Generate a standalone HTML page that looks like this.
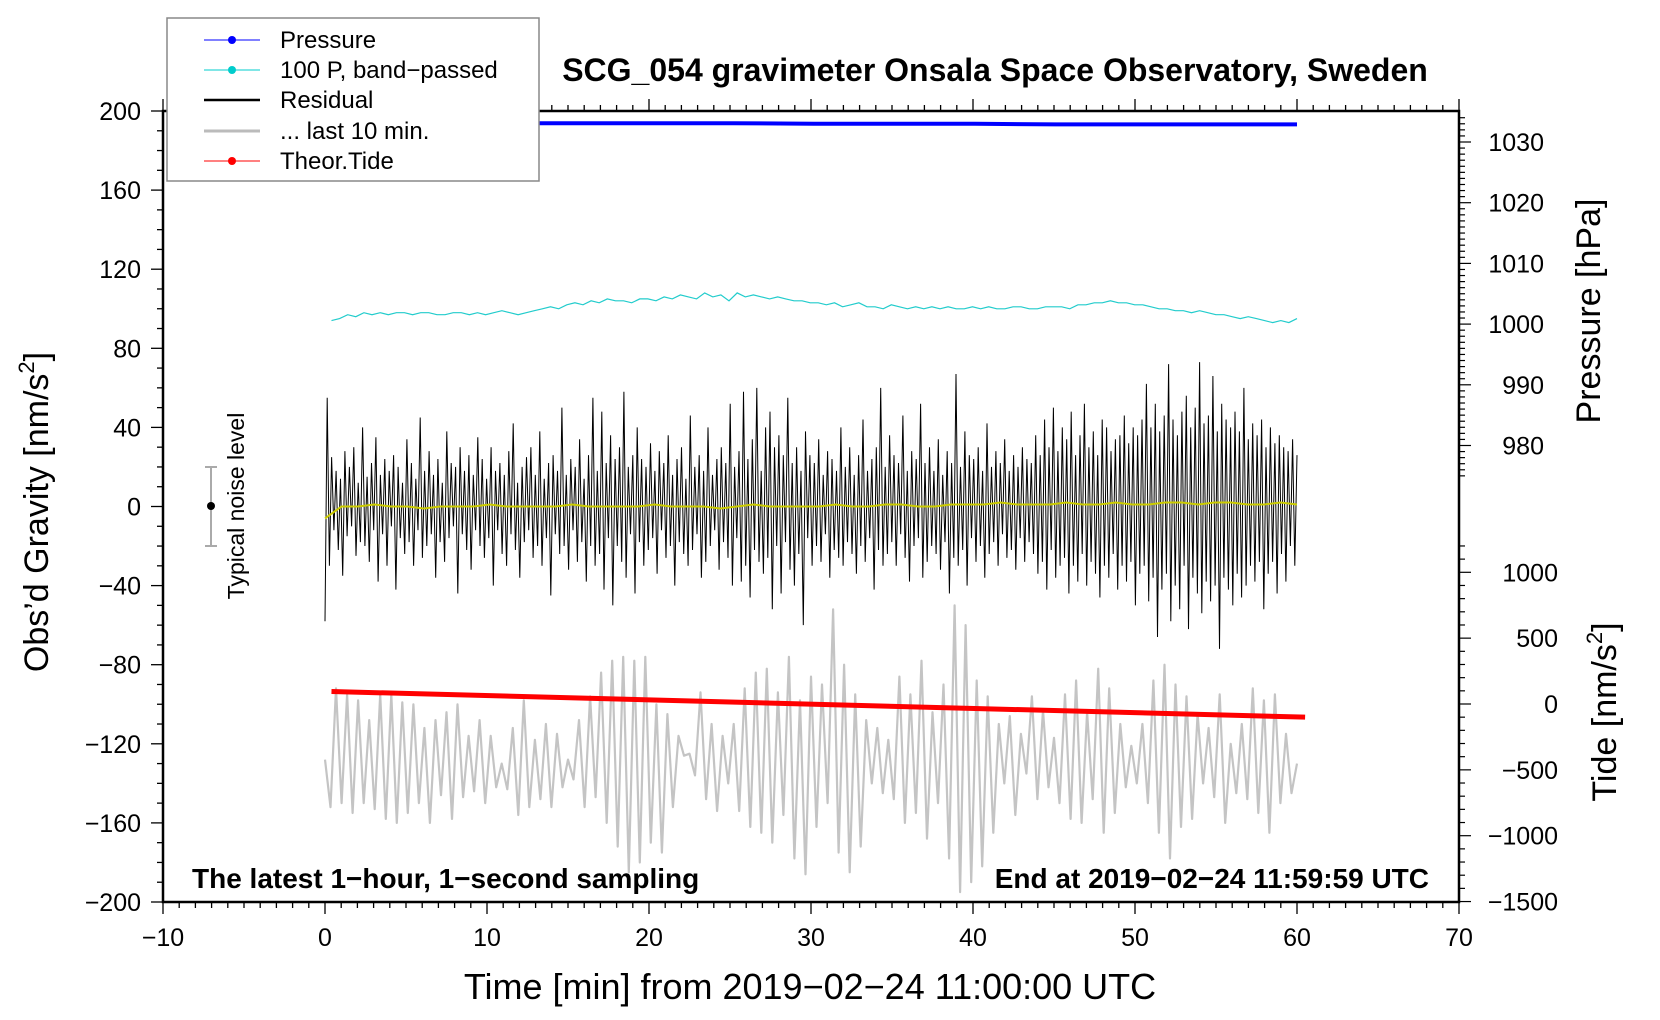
<!DOCTYPE html>
<html><head><meta charset="utf-8"><style>
html,body{margin:0;padding:0;background:#fff;}
svg{display:block;font-family:"Liberation Sans",sans-serif;}
</style></head><body>
<svg id="chart" width="1660" height="1020" viewBox="0 0 1660 1020" xmlns="http://www.w3.org/2000/svg">
<rect width="1660" height="1020" fill="#fff"/>
<g id="marks"></g>
<g id="axes"></g>
<text x="995" y="81" text-anchor="middle" font-size="32" font-weight="bold">SCG_054 gravimeter Onsala Space Observatory, Sweden</text>
<text x="810" y="999" text-anchor="middle" font-size="36">Time [min] from 2019−02−24 11:00:00 UTC</text>
<text transform="translate(48,512) rotate(-90)" text-anchor="middle" font-size="34">Obs’d Gravity [nm/s<tspan font-size="22" dy="-14">2</tspan><tspan dy="14">]</tspan></text>
<text transform="translate(1600,311) rotate(-90)" text-anchor="middle" font-size="34">Pressure [hPa]</text>
<text transform="translate(1616,712) rotate(-90)" text-anchor="middle" font-size="34">Tide [nm/s<tspan font-size="22" dy="-14">2</tspan><tspan dy="14">]</tspan></text>
<text x="192" y="888" font-size="28" font-weight="bold">The latest 1−hour, 1−second sampling</text>
<text x="1429" y="888" text-anchor="end" font-size="28" font-weight="bold">End at 2019−02−24 11:59:59 UTC</text>
<g>
<line x1="211" y1="467" x2="211" y2="546" stroke="#aaa" stroke-width="2"/>
<line x1="205" y1="467" x2="217" y2="467" stroke="#aaa" stroke-width="2"/>
<line x1="205" y1="546" x2="217" y2="546" stroke="#aaa" stroke-width="2"/>
<circle cx="211" cy="506" r="4" fill="#000"/>
<text transform="translate(244,506) rotate(-90)" text-anchor="middle" font-size="23">Typical noise level</text>
</g>
<g>
<rect x="167" y="18" width="372" height="163" fill="#fff" stroke="#888" stroke-width="1.5"/>
<g><line x1="204" y1="40" x2="260" y2="40" stroke="#00f" stroke-width="1"/><circle cx="232" cy="40" r="4" fill="#00f"/><text x="280" y="48" font-size="24">Pressure</text></g>
<g><line x1="204" y1="70" x2="260" y2="70" stroke="#0cc" stroke-width="1"/><circle cx="232" cy="70" r="4" fill="#0cc"/><text x="280" y="78" font-size="24">100 P, band−passed</text></g>
<g><line x1="204" y1="100" x2="260" y2="100" stroke="#000" stroke-width="2.5"/><text x="280" y="108" font-size="24">Residual</text></g>
<g><line x1="204" y1="131" x2="260" y2="131" stroke="#bbb" stroke-width="3"/><text x="280" y="139" font-size="24">... last 10 min.</text></g>
<g><line x1="204" y1="161" x2="260" y2="161" stroke="#f00" stroke-width="1"/><circle cx="232" cy="161" r="4" fill="#f00"/><text x="280" y="169" font-size="24">Theor.Tide</text></g>
</g>
</svg>
<script>
// ---- data ----
const xTicks = [-10,0,10,20,30,40,50,60,70];
const yTicks = [-200,-160,-120,-80,-40,0,40,80,120,160,200];
const pTicks = [980,990,1000,1010,1020,1030];
const tTicks = [-1500,-1000,-500,0,500,1000];
const pressureVals = [1033.0,1033.0,1033.1,1033.1,1033.1,1033.1,1033.0,1033.0,1033.0,1032.9,1032.9,1032.9,1032.9];
const bandVals = [94,95,97,96,98,97,98,97,98,98,97,98,98,97,97,98,98,97,98,97,98,99,98,97,98,99,100,101,100,102,103,102,104,103,105,104,104,103,105,105,104,106,105,107,106,105,108,106,107,104,108,106,107,106,105,106,105,104,104,103,103,102,103,101,102,103,101,101,100,102,101,100,101,100,101,100,101,100,100,101,100,101,100,100,101,101,100,100,101,101,101,100,102,102,103,103,104,103,103,102,102,101,100,100,99,99,98,99,98,97,97,96,95,96,95,94,93,94,93,95];
const residualVals = [
-58,55,-30,25,-12,18,-22,14,-35,28,-15,20,-10,30,-25,12,-18,40,-20,15,-28,22,-12,35,-38,16,-14,24,-30,18,-10,26,-42,20,-16,12,-24,34,-18,22,
-30,14,-12,45,-26,18,-20,28,-14,16,-36,24,-18,12,-28,38,-16,22,-10,20,-44,30,-14,18,-22,26,-32,16,-12,35,-20,24,-26,14,-16,30,-40,18,-12,22,
-24,16,-30,28,-14,42,-22,12,-36,20,-18,25,-12,30,-26,16,-20,38,-30,14,-16,22,-45,26,-14,18,-24,50,-20,16,-32,24,-12,20,-28,34,-18,14,-38,26,
-20,55,-30,18,-24,48,-42,22,-16,36,-50,24,-20,30,-28,58,-36,20,-14,26,-44,40,-18,24,-30,20,-22,32,-16,18,-34,28,-12,22,-26,36,-20,16,-40,24,
-18,30,-24,14,-30,46,-22,20,-14,26,-36,18,-28,40,-20,16,-12,24,-32,30,-18,22,-26,52,-40,20,-16,28,-38,58,-30,24,-46,34,-22,60,-28,18,-34,40,
-26,48,-52,30,-20,36,-44,26,-18,55,-32,22,-40,30,-24,18,-60,38,-16,26,-30,22,-20,34,-28,16,-14,28,-36,24,-22,18,-26,40,-30,20,-18,30,-24,16,
-34,26,-20,44,-28,18,-16,24,-42,30,-22,60,-30,20,-24,36,-18,26,-30,22,-14,46,-26,18,-38,28,-20,24,-16,52,-36,22,-28,30,-20,18,-24,34,-32,16,
-18,28,-44,22,-26,67,-30,20,-22,38,-40,26,-16,24,-28,30,-20,18,-36,42,-24,20,-18,28,-30,22,-14,34,-26,18,-22,26,-32,20,-16,30,-28,24,-18,22,
-24,36,-34,26,-28,44,-42,30,-22,50,-36,28,-30,40,-26,34,-44,48,-30,26,-38,36,-24,52,-40,30,-28,38,-34,26,-46,44,-30,40,-36,28,-24,34,-42,36,
-30,46,-38,32,-28,40,-50,36,-34,44,-30,62,-48,40,-36,52,-66,38,-42,46,-34,72,-58,44,-40,36,-52,48,-30,56,-62,40,-36,50,-44,73,-54,42,-38,46,
-48,66,-40,38,-72,52,-36,44,-42,40,-50,48,-34,38,-46,60,-40,34,-30,42,-38,36,-28,44,-52,30,-34,40,-28,32,-44,36,-24,30,-38,28,-20,34,-30,26];
const yellowVals = [-6,0,0,1,0,0,-1,0,0,0,1,0,0,0,0,1,0,0,0,0,1,0,0,0,-1,0,1,0,0,0,0,1,0,0,1,1,0,0,1,1,1,2,1,1,1,2,1,1,2,1,1,2,2,1,2,2,1,1,2,1];
const grayVals = [-128,-152,-92,-150,-95,-155,-98,-150,-108,-153,-95,-158,-95,-160,-99,-155,-100,-150,-112,-160,-108,-146,-104,-158,-100,-147,-116,-144,-108,-150,-116,-142,-130,-143,-112,-156,-98,-152,-118,-148,-110,-152,-115,-142,-128,-138,-108,-152,-96,-147,-84,-160,-78,-172,-76,-185,-78,-180,-76,-170,-100,-175,-105,-152,-116,-126,-125,-136,-94,-148,-110,-154,-116,-140,-110,-154,-92,-162,-84,-165,-82,-170,-94,-156,-76,-178,-98,-186,-86,-162,-90,-150,-52,-175,-80,-185,-95,-172,-108,-140,-112,-145,-118,-148,-86,-160,-95,-155,-78,-168,-104,-150,-90,-178,-50,-195,-60,-190,-88,-182,-96,-165,-110,-140,-106,-156,-115,-135,-96,-148,-103,-142,-117,-150,-95,-158,-88,-160,-104,-148,-82,-165,-92,-155,-110,-142,-121,-140,-110,-150,-88,-165,-80,-178,-90,-162,-96,-158,-105,-140,-112,-147,-95,-160,-120,-145,-110,-148,-92,-155,-98,-165,-95,-150,-115,-145,-130];
const tideStart = 95, tideEnd = -100;

// ---- scales ----
const L=163,R=1459,T=111,B=902;
const xs = v => L + (v+10)*(R-L)/80;
const ys = v => B - (v+200)*(B-T)/400;
const ps = v => 142 + (1030-v)*6.07;
const ts = v => 704 - v*0.1317;

const NS="http://www.w3.org/2000/svg";
const marks=document.getElementById('marks');
const axes=document.getElementById('axes');
function mk(tag,attrs,parent){const e=document.createElementNS(NS,tag);for(const k in attrs)e.setAttribute(k,attrs[k]);parent.appendChild(e);return e;}
function series(vals,t0,t1,sc){const n=vals.length;return vals.map((v,i)=>xs(t0+(t1-t0)*i/(n-1)).toFixed(1)+','+sc(v).toFixed(1)).join(' ');}

let e;
e=mk('polyline',{points:series(grayVals,0,60,ys),fill:'none',stroke:'#c4c4c4','stroke-width':2.2,'stroke-linejoin':'round'},marks);


e=mk('line',{x1:xs(0.4),y1:ts(tideStart),x2:xs(60.5),y2:ts(tideEnd),stroke:'#f00','stroke-width':5},marks);


e=mk('polyline',{points:series(residualVals,0,60,ys),fill:'none',stroke:'#000','stroke-width':1},marks);


e=mk('polyline',{points:series(yellowVals,0,60,ys),fill:'none',stroke:'#cc0','stroke-width':2},marks);


e=mk('polyline',{points:series(bandVals,0.4,60,ys),fill:'none',stroke:'#2cc','stroke-width':1.2},marks);


e=mk('polyline',{points:series(pressureVals,0.4,60,ps),fill:'none',stroke:'#00f','stroke-width':4},marks);



e=mk('rect',{x:L,y:T,width:R-L,height:B-T,fill:'none',stroke:'#000','stroke-width':2.5},axes);


for(let m=-10;m<=70;m++){
  const big=m%10===0;
  mk('line',{x1:xs(m),y1:B,x2:xs(m),y2:B+(big?12:6),stroke:'#000','stroke-width':1.3},axes);
  mk('line',{x1:xs(m),y1:T,x2:xs(m),y2:T-(big?12:6),stroke:'#000','stroke-width':1.3},axes);
}
xTicks.forEach(v=>{e=mk('text',{x:xs(v),y:946,'text-anchor':'middle','font-size':25},axes);e.textContent=String(v).replace('-','−');

});
for(let v=-200;v<=200;v+=10){
  const big=v%40===0;
  mk('line',{x1:L,y1:ys(v),x2:L-(big?12:6),y2:ys(v),stroke:'#000','stroke-width':1.3},axes);
}
yTicks.forEach(v=>{e=mk('text',{x:141,y:ys(v)+9,'text-anchor':'end','font-size':25},axes);e.textContent=String(v).replace('-','−');

});
for(let v=975;v<=1034;v++){
  const big=v%10===0;
  mk('line',{x1:R,y1:ps(v),x2:R+(big?12:6),y2:ps(v),stroke:'#000','stroke-width':1.2},axes);
}
pTicks.forEach(v=>{e=mk('text',{x:1544,y:ps(v)+9,'text-anchor':'end','font-size':25},axes);e.textContent=v;

});
for(let v=-1500;v<=1200;v+=100){
  const big=v%500===0;
  mk('line',{x1:R,y1:ts(v),x2:R+(big?12:6),y2:ts(v),stroke:'#000','stroke-width':1.2},axes);
}
tTicks.forEach(v=>{e=mk('text',{x:1558,y:ts(v)+9,'text-anchor':'end','font-size':25},axes);e.textContent=String(v).replace('-','−');

});
</script>
</body></html>
